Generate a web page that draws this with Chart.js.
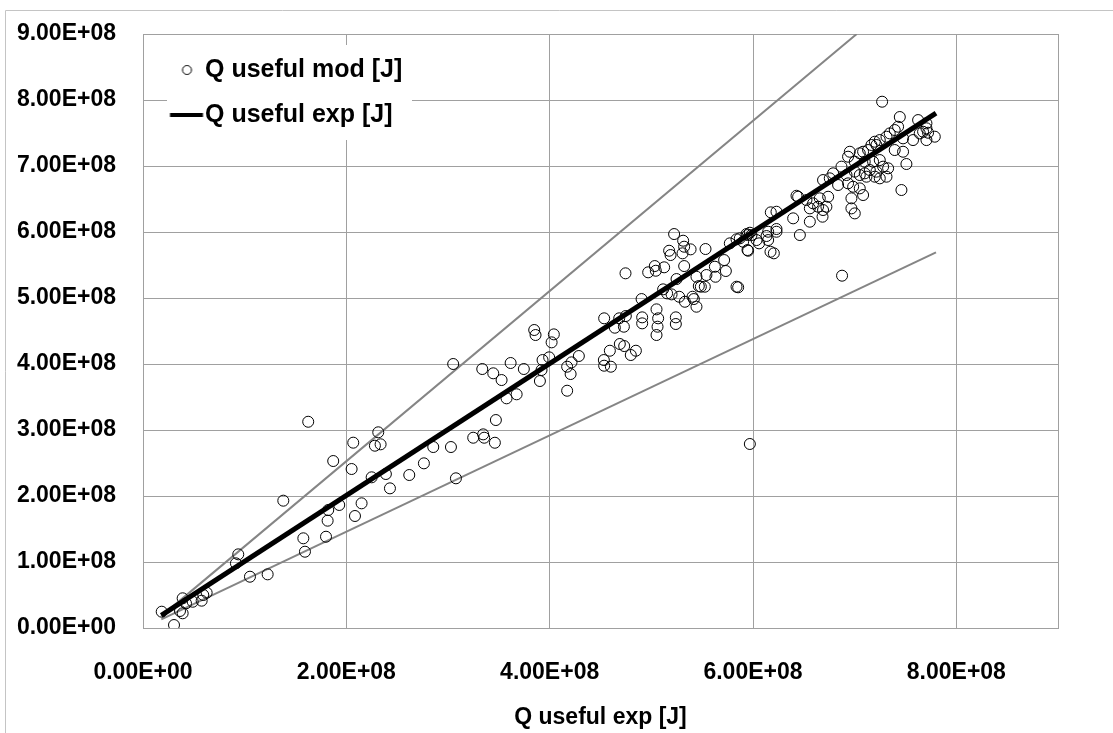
<!DOCTYPE html>
<html><head><meta charset="utf-8">
<script src="https://cdn.jsdelivr.net/npm/chart.js@4.4.1/dist/chart.umd.min.js"></script>
<style>html,body{margin:0;padding:0;background:#fff;}#wrap{width:1113px;height:733px;position:relative;}</style>
</head><body><div id="wrap"><canvas id="c"></canvas></div>
<script>
// Q useful exp [J] (x) and Q useful mod [J] (y) of each scatter point
const modX = [
1.625e8,2.314e8,2.068e8,2.281e8,2.337e8,1.871e8,2.052e8,2.249e8,2.389e8,2.429e8,
1.380e8,2.150e8,1.930e8,1.822e8,1.816e8,2.085e8,1.577e8,1.800e8,1.593e8,0.937e8,
0.914e8,1.052e8,1.226e8,0.626e8,0.593e8,0.489e8,0.390e8,0.423e8,0.364e8,0.390e8,
0.184e8,0.305e8,0.577e8,2.763e8,2.619e8,3.078e8,
3.051e8,3.337e8,3.445e8,3.527e8,3.616e8,3.746e8,3.848e8,3.861e8,4.041e8,4.019e8,
3.930e8,3.995e8,3.904e8,3.920e8,3.576e8,3.675e8,3.471e8,3.248e8,3.346e8,3.356e8,
3.461e8,3.029e8,2.855e8,4.172e8,4.172e8,4.215e8,4.206e8,4.287e8,4.533e8,4.536e8,
4.602e8,4.592e8,4.690e8,4.733e8,4.798e8,4.848e8,4.536e8,4.684e8,4.641e8,4.730e8,
4.749e8,4.904e8,4.910e8,4.910e8,5.051e8,5.067e8,5.061e8,5.051e8,5.241e8,5.241e8,
4.746e8,4.969e8,5.034e8,5.126e8,5.044e8,5.224e8,5.175e8,5.189e8,5.313e8,5.323e8,
5.307e8,5.386e8,5.323e8,5.116e8,5.155e8,5.199e8,5.248e8,5.274e8,5.330e8,5.405e8,
5.418e8,5.444e8,5.444e8,5.467e8,
5.533e8,5.542e8,5.631e8,5.716e8,5.625e8,5.733e8,5.487e8,5.526e8,5.838e8,5.854e8,
5.772e8,5.838e8,5.946e8,5.903e8,5.946e8,5.985e8,6.035e8,6.060e8,6.133e8,6.149e8,
6.231e8,6.231e8,6.172e8,6.205e8,6.175e8,6.231e8,6.395e8,6.428e8,6.461e8,
5.969e8,5.936e8,5.870e8,5.952e8,6.149e8,6.559e8,6.689e8,6.684e8,6.559e8,7.001e8,
7.624e8,7.706e8,7.673e8,7.788e8,7.706e8,7.640e8,7.574e8,7.476e8,7.427e8,7.394e8,
7.345e8,7.313e8,7.247e8,7.198e8,7.165e8,7.214e8,7.132e8,7.083e8,7.050e8,6.952e8,
6.935e8,7.001e8,7.099e8,7.181e8,7.247e8,7.280e8,7.214e8,7.149e8,7.099e8,7.050e8,
7.001e8,6.920e8,6.870e8,6.788e8,6.755e8,6.689e8,6.837e8,6.935e8,6.985e8,7.050e8,
7.116e8,7.198e8,7.247e8,7.313e8,7.329e8,7.394e8,7.476e8,7.509e8,7.460e8,6.968e8,
7.083e8,6.968e8,6.739e8,6.657e8,6.591e8,6.526e8,6.722e8,6.640e8,6.444e8,
7.706e8,7.722e8,7.444e8,
7.270e8,5.969e8,6.876e8
];
const modY = [
3.125e8,2.965e8,2.808e8,2.762e8,2.783e8,2.530e8,2.409e8,2.283e8,2.333e8,2.116e8,
1.929e8,1.889e8,1.864e8,1.788e8,1.626e8,1.697e8,1.359e8,1.383e8,1.156e8,1.116e8,
0.980e8,0.777e8,0.813e8,0.535e8,0.500e8,0.398e8,0.450e8,0.374e8,0.258e8,0.223e8,
0.247e8,0.045e8,0.414e8,2.495e8,2.318e8,2.268e8,
4.000e8,3.924e8,3.859e8,3.757e8,4.015e8,3.924e8,4.515e8,4.439e8,4.449e8,4.328e8,
4.060e8,4.101e8,3.742e8,3.909e8,3.480e8,3.541e8,3.151e8,2.883e8,2.934e8,2.883e8,
2.807e8,2.742e8,2.742e8,3.595e8,3.959e8,4.025e8,3.848e8,4.121e8,4.060e8,3.974e8,
3.959e8,4.201e8,4.303e8,4.272e8,4.136e8,4.201e8,4.692e8,4.692e8,4.550e8,4.565e8,
4.727e8,4.984e8,4.707e8,4.616e8,4.828e8,4.692e8,4.565e8,4.439e8,4.707e8,4.606e8,
5.374e8,5.389e8,5.484e8,5.465e8,5.413e8,5.969e8,5.716e8,5.651e8,5.868e8,5.777e8,
5.677e8,5.737e8,5.484e8,5.131e8,5.070e8,5.055e8,5.287e8,5.019e8,4.943e8,5.019e8,
4.984e8,4.868e8,5.322e8,5.181e8,
5.742e8,5.348e8,5.322e8,5.575e8,5.474e8,5.409e8,5.171e8,5.171e8,5.171e8,5.162e8,
5.828e8,5.889e8,5.727e8,5.853e8,5.954e8,5.954e8,5.878e8,5.828e8,5.939e8,6.004e8,
6.045e8,6.004e8,5.701e8,5.677e8,6.298e8,6.307e8,6.207e8,6.549e8,5.954e8,
5.989e8,5.969e8,5.904e8,5.716e8,5.878e8,6.358e8,6.333e8,6.232e8,6.156e8,6.282e8,
7.696e8,7.571e8,7.519e8,7.444e8,7.393e8,7.494e8,7.393e8,7.419e8,7.595e8,7.545e8,
7.494e8,7.444e8,7.393e8,7.368e8,7.318e8,7.318e8,7.242e8,7.216e8,7.192e8,7.216e8,
7.141e8,7.065e8,7.065e8,7.065e8,7.090e8,6.990e8,6.914e8,6.939e8,6.889e8,6.863e8,
6.914e8,6.863e8,6.990e8,6.889e8,6.813e8,6.787e8,6.712e8,6.737e8,6.686e8,6.661e8,
6.838e8,6.838e8,6.813e8,6.838e8,6.965e8,7.242e8,7.216e8,7.030e8,6.636e8,6.510e8,
6.560e8,6.358e8,6.534e8,6.510e8,6.434e8,6.484e8,6.383e8,6.383e8,6.534e8,
7.646e8,7.504e8,7.742e8,
7.974e8,2.788e8,5.338e8
];
// reference lines
const expLineX = [0.18e8, 7.80e8];
const expLineY = [0.19e8, 7.80e8];
const upperX = [0.18e8, 7.02e8];
const upperY = [0.18e8, 9.00e8];
const lowerX = [0.18e8, 7.80e8];
const lowerY = [0.13e8, 5.69e8];
// axes
const xTickValues = [0, 2e8, 4e8, 6e8, 8e8, 9e8];
const xTickLabels = ['0.00E+00', '2.00E+08', '4.00E+08', '6.00E+08', '8.00E+08', ''];
const yTickValues = [0, 1e8, 2e8, 3e8, 4e8, 5e8, 6e8, 7e8, 8e8, 9e8];
const yTickLabels = ['0.00E+00', '1.00E+08', '2.00E+08', '3.00E+08', '4.00E+08', '5.00E+08', '6.00E+08', '7.00E+08', '8.00E+08', '9.00E+08'];
const seriesNames = ['Q useful mod [J]', 'Q useful exp [J]'];
const xAxisTitle = 'Q useful exp [J]';

const FONT = "'Liberation Sans', Arial, sans-serif";
const pts = (xs, ys) => xs.map((x, i) => ({x: x, y: ys[i]}));

function mk(w, h, fn) { const c = document.createElement('canvas'); c.width = w; c.height = h; fn(c.getContext('2d')); return c; }
const legCircle = mk(44, 14, g => { g.strokeStyle = '#000'; g.lineWidth = 1; g.beginPath(); g.arc(26.5, 7, 4.5, 0, Math.PI * 2); g.stroke(); });
const legLine = mk(44, 14, g => { g.strokeStyle = '#000'; g.lineWidth = 4; g.beginPath(); g.moveTo(9.5, 7); g.lineTo(42.5, 7); g.stroke(); });

const framePlugin = {
  id: 'frame',
  beforeDraw(chart) {
    const ctx = chart.ctx;
    ctx.save();
    ctx.strokeStyle = '#c4c4c4'; ctx.lineWidth = 1;
    ctx.beginPath(); ctx.moveTo(5.5, 733); ctx.lineTo(5.5, 10.5); ctx.lineTo(1113, 10.5); ctx.stroke();
    ctx.restore();
    const lg = chart.legend;
    if (lg) {
      lg.left = 152.5; lg.top = 37.5; lg.width = 300; lg.height = 200;
      lg.right = lg.left + lg.width; lg.bottom = lg.top + lg.height;
      if (!lg._wrapped) {
        const d = lg.draw;
        lg.draw = function () {
          const c = this.ctx; c.save(); c.fillStyle = '#fff'; c.fillRect(167, 45, 245, 95); c.restore();
          d.apply(this, arguments);
        };
        lg._wrapped = true;
      }
    }
  }
};

new Chart(document.getElementById('c'), {
  type: 'scatter',
  data: {
    datasets: [
      {label: seriesNames[0], data: pts(modX, modY), showLine: false, pointRadius: 5.5, pointHoverRadius: 5.5,
       pointBorderWidth: 1, pointBorderColor: '#000', pointBackgroundColor: 'rgba(0,0,0,0)',
       borderColor: '#000', backgroundColor: 'rgba(0,0,0,0)', order: 2},
      {label: seriesNames[1], data: pts(expLineX, expLineY), showLine: true, borderColor: '#000', borderWidth: 5,
       pointRadius: 0, backgroundColor: '#000', order: 1},
      {label: 'upper', data: pts(upperX, upperY), showLine: true, borderColor: '#858585', borderWidth: 2, pointRadius: 0, order: 3},
      {label: 'lower', data: pts(lowerX, lowerY), showLine: true, borderColor: '#858585', borderWidth: 2, pointRadius: 0, order: 3}
    ]
  },
  options: {
    responsive: true, maintainAspectRatio: false, animation: false, events: [],
    layout: {padding: {left: 14, right: 55, top: 34, bottom: 0}},
    plugins: {
      tooltip: {enabled: false},
      legend: {
        position: 'chartArea', align: 'start',
        labels: {
          usePointStyle: true, boxWidth: 20, boxHeight: 20, padding: 20, color: '#000',
          font: {family: FONT, size: 25, weight: 'bold'},
          generateLabels(chart) {
            const base = Chart.defaults.plugins.legend.labels.generateLabels(chart);
            const items = base.filter(it => it.datasetIndex < 2).sort((a, b) => a.datasetIndex - b.datasetIndex);
            items.forEach(it => { it.pointStyle = it.datasetIndex === 0 ? legCircle : legLine; it.fontColor = '#000'; });
            return items;
          }
        }
      }
    },
    scales: {
      x: {
        type: 'linear', min: 0, max: 9e8,
        afterBuildTicks: ax => { ax.ticks = xTickValues.map(v => ({value: v})); },
        afterFit: ax => { ax.height = 105; ax.paddingLeft = 0; ax.paddingRight = 0; },
        ticks: {autoSkip: false, maxRotation: 0, padding: 31, color: '#000',
                font: {family: FONT, size: 23, weight: 'bold'},
                callback: (v, i) => (xTickLabels[i] !== undefined ? xTickLabels[i] : '')},
        grid: {color: '#a0a0a0', lineWidth: 1, drawTicks: false},
        border: {color: '#a0a0a0'},
        title: {display: true, text: xAxisTitle, color: '#000', font: {family: FONT, size: 23, weight: 'bold'}, padding: {top: 17, bottom: 2}}
      },
      y: {
        type: 'linear', min: 0, max: 9e8,
        afterBuildTicks: ax => { ax.ticks = yTickValues.map(v => ({value: v})); },
        afterFit: ax => { ax.width = 129; ax.paddingTop = 0; ax.paddingBottom = 0; },
        ticks: {autoSkip: false, padding: 27, color: '#000',
                font: {family: FONT, size: 23, weight: 'bold'},
                callback: (v, i) => (yTickLabels[i] !== undefined ? yTickLabels[i] : '')},
        grid: {color: '#a0a0a0', lineWidth: 1, drawTicks: false},
        border: {color: '#a0a0a0'}
      }
    }
  },
  plugins: [framePlugin]
});
</script>
</body></html>
